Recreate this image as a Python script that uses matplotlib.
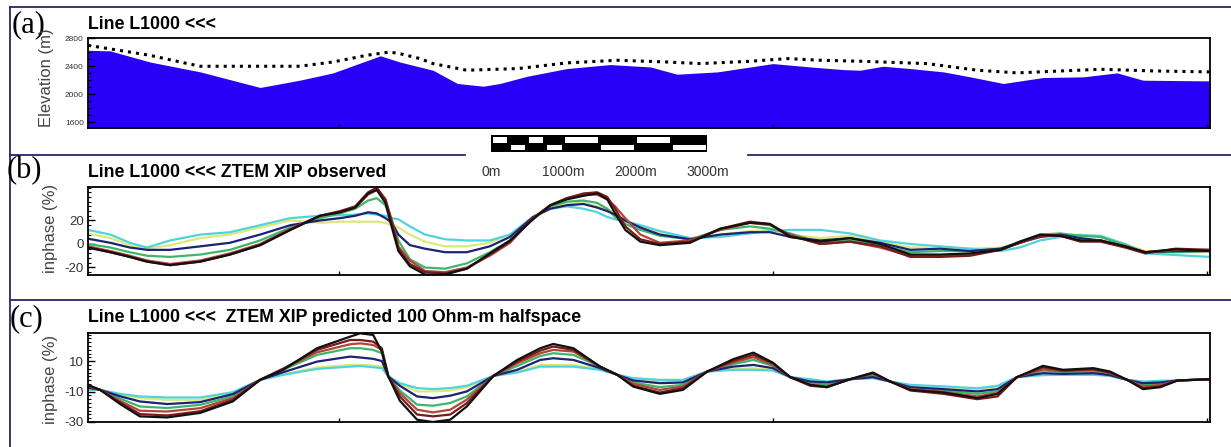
import matplotlib
matplotlib.use('Agg')
import matplotlib.pyplot as plt
import matplotlib.transforms as mtransforms
from matplotlib.patches import Rectangle
from matplotlib.lines import Line2D
from matplotlib.ticker import MultipleLocator, FixedLocator

plt.rcParams['font.family'] = ['Liberation Sans', 'DejaVu Sans']
plt.rcParams['axes.unicode_minus'] = False

# (a) elevation profile, distance along line in km
dist_terrain = [0.00, 0.31, 0.86, 1.56, 2.39, 2.94, 3.40, 4.06, 4.33, 4.79, 5.13, 5.49, 5.72, 6.10,
                6.65, 7.25, 7.81, 8.18, 8.74, 9.51, 10.03, 10.49, 10.72, 11.04, 11.42, 11.88,
                12.25, 12.71, 13.26, 13.82, 14.29, 14.65, 15.58]
elev_terrain = [2629, 2620, 2461, 2319, 2096, 2200, 2304, 2550, 2461, 2343, 2153, 2114, 2153, 2257,
                2367, 2424, 2390, 2286, 2319, 2438, 2390, 2352, 2343, 2400, 2367, 2319,
                2248, 2153, 2238, 2248, 2305, 2200, 2190]
dist_flight = [0.00, 0.86, 1.28, 1.56, 2.94, 3.40, 3.87, 4.19, 4.33, 4.61, 4.79, 5.26, 5.97, 6.65,
               7.35, 8.04, 8.50, 9.19, 9.71, 10.17, 10.76, 11.65, 12.35, 12.90, 14.06, 14.79, 15.58]
elev_flight = [2700, 2557, 2461, 2400, 2400, 2461, 2557, 2604, 2581, 2510, 2438, 2343, 2367, 2448,
               2486, 2461, 2438, 2471, 2510, 2486, 2471, 2438, 2343, 2305, 2357, 2333, 2319]

# (b) ZTEM XIP observed (%)
dist_obs = [0.00, 0.31, 0.58, 0.82, 1.14, 1.56, 1.97, 2.39, 2.81, 3.22, 3.50, 3.71, 3.89, 4.01,
            4.13, 4.22, 4.31, 4.47, 4.68, 4.96, 5.26, 5.58, 5.86, 6.18, 6.42, 6.65, 6.88, 7.07,
            7.21, 7.32, 7.46, 7.67, 7.94, 8.36, 8.78, 9.19, 9.47, 9.75, 10.17, 10.58, 11.00,
            11.42, 11.83, 12.25, 12.67, 12.94, 13.22, 13.50, 13.78, 14.06, 14.40, 14.68, 15.10, 15.58]
obs_black = [-3, -7, -11, -15, -18, -15, -9, -1, 12, 24, 27, 31, 43, 46, 35, 14, -6, -19, -26, -26,
             -21, -8, 3, 21, 33, 38, 41, 43, 38, 26, 12, 2, -1, 1, 13, 18, 17, 6, 2, 5,
             0, -9, -9, -8, -5, 2, 8, 7, 3, 3, -2, -7, -4.5, -6]
obs_maroon = [-3, -7, -11, -15, -18, -15, -9, -1, 12, 24, 28, 32, 44, 48, 38, 18, -4, -17, -24, -25,
              -21, -9, 2, 22, 33, 39, 43, 44, 40, 30, 15, 4, 0, 2, 13, 19, 17, 7, 0, 2,
              -2, -11, -11, -10, -5, 1, 7, 7, 2, 2, -3, -8, -4, -5]
obs_red = [-2, -6, -10, -14, -17, -14, -8, 0, 13, 24, 27, 31, 42, 46, 38, 20, -2, -14, -23, -24,
           -20, -10, 1, 22, 33, 39, 42, 42, 38, 32, 22, 8, 1, 3, 12, 18, 16, 8, 0, 2,
           -3, -10, -10, -9, -5, 1, 7, 7, 3, 3, -2, -7, -5, -5]
obs_green = [0, -3, -7, -10, -11, -9, -5, 3, 14, 22, 26, 30, 37, 39, 33, 20, 3, -13, -20, -21,
             -16.5, -7, 3, 22, 32, 36, 37, 35, 30, 23, 17, 12, 7, 4, 12, 15, 13, 9, 1, 3,
             -1, -7, -6, -6, -4, 2, 8, 9, 7, 6, -1, -7, -7, -6]
obs_yellow = [9, 5, -1, -4, -1, 5, 8, 14, 20, 18, 19, 19, 19, 19, 18, 16, 14, 8, 2, -2,
              -2, 1, 8, 23, 32, 34, 35, 32, 30, 26, 21, 14, 9, 4, 8, 11, 12, 8, 5, 7,
              2, -3, -3, -4, -3, 1, 6, 7, 8, 6, 0, -6, -7, -7]
obs_navy = [4.5, 1, -3, -5, -5, -2, 1, 8, 16, 20, 22, 24, 27, 26, 22, 18, 8, -1, -4, -7,
            -7, -2, 6, 23, 30, 33, 34, 31, 28, 25, 20, 14, 8, 4, 8, 10, 10, 6, 3, 5,
            1, -5, -4, -6, -4, 1, 6, 8, 5, 3, -2, -7, -6, -6]
obs_cyan = [12, 8, 1, -3, 3, 8, 10, 16, 22, 24, 24.5, 25, 26, 25, 24, 22, 21, 15, 8, 4,
            3, 3, 8, 23, 30, 32, 30, 27, 23, 21, 19, 16, 11, 5, 6, 9, 11, 12, 12, 9,
            3, 0, -2, -4, -6, -3, 3, 6, 7.5, 7, 0, -8, -9.4, -11]

# (c) ZTEM XIP predicted, 100 Ohm-m halfspace (%)
dist_pred = [0.00, 0.17, 0.44, 0.72, 1.10, 1.56, 2.01, 2.39, 2.71, 3.18, 3.64, 3.78, 3.96, 4.08,
             4.17, 4.33, 4.57, 4.79, 5.03, 5.26, 5.63, 5.96, 6.28, 6.46, 6.74, 7.11, 7.35, 7.57,
             7.94, 8.26, 8.60, 8.96, 9.24, 9.51, 9.75, 10.03, 10.26, 10.58, 10.90, 11.14, 11.42,
             11.88, 12.35, 12.63, 12.90, 13.26, 13.54, 13.96, 14.19, 14.43, 14.65, 14.89, 15.13, 15.58]
pred_black = [-5.6, -8.9, -18, -26.3, -27, -24, -16.5, -2.3, 4.3, 18.5, 26.1, 28.3, 27.2, 16.3, 0,
              -16, -28.5, -30, -28.5, -19.8, 0.3, 10.8, 18.5, 21.3, 18.5, 6.4, 1, -6.7, -11.5, -8.9,
              3.2, 11.3, 15.6, 9, -0.5, -5.6, -7.1, -1.9, 2.5, -3.4, -8.9, -10.6, -14.3, -11.5,
              -0.5, 6.9, 4.3, 5.4, 3.2, -2.3, -8.4, -7.1, -2.7, -1.9]
pred_maroon = [-6, -8.9, -17, -24.8, -25.7, -22.9, -15.4, -2.3, 5, 17.4, 23.9, 23.9, 22.8, 18.5, 0,
               -13.2, -25.1, -26.3, -25.1, -17.6, 0.3, 9.7, 16.9, 19.6, 17.4, 6.4, 1, -6.2, -10.6, -7.8,
               3.2, 10.2, 14.1, 8.6, -0.5, -6.2, -7.1, -1.9, 2.1, -3.4, -9.3, -11.5, -15, -13.2,
               -0.5, 6, 3.8, 4.7, 2.5, -2.3, -7.8, -6.6, -2.7, -1.9]
pred_red = [-6.5, -8.9, -16, -22.6, -23.1, -20.9, -14.3, -2.3, 5, 15.8, 21.1, 21.7, 20.6, 17.4, 0,
            -11, -21.9, -23.7, -21.9, -15.3, 0.3, 8.6, 15.2, 17.4, 16.3, 6.4, 1, -4.9, -8.9, -6.7,
            3.2, 9.1, 12.6, 7.5, -0.5, -5.5, -6.5, -1.9, 1.6, -3.4, -8.4, -10.2, -13.2, -11,
            -0.5, 4.7, 3.4, 4.3, 2.1, -2.3, -6.7, -5.7, -2.7, -1.9]
pred_green = [-7, -8.9, -14.5, -19.8, -20.8, -18.7, -13.2, -2.3, 4.3, 14.1, 18.5, 18.5, 17.4, 15.2, 0,
              -9.3, -18.6, -19.3, -17.5, -13.2, 0.3, 6.9, 13.4, 15.2, 14.1, 6.4, 1, -4, -7.1, -5.6,
              3.2, 8, 10.8, 6.9, -0.5, -4.5, -5.5, -1.9, 0.3, -3.4, -7.8, -9.3, -11.5, -9.9,
              -0.5, 3.8, 2.9, 3.4, 1.2, -2.3, -5.8, -4.9, -2.7, -1.9]
pred_navy = [-7.5, -8.9, -13, -16.5, -18.2, -16.9, -11.7, -2.3, 2.7, 9.7, 13, 12.4, 11.5, 10.1, 0,
             -6.2, -13.2, -14.3, -12.7, -9.9, 0.3, 4.3, 10.8, 11.9, 10.8, 5.4, 1, -2.7, -4.5, -4,
             3.2, 6.4, 7.5, 5.4, -0.5, -3.4, -4, -1.9, -0.5, -3.4, -7.1, -8.4, -9.9, -8.4,
             -0.5, 2.1, 1.6, 2.1, 0.8, -2.3, -4.5, -4, -2.7, -1.9]
pred_yellow = [-8, -8.9, -12, -14.3, -15.4, -15.4, -11, -2.3, 1.4, 5.8, 7.5, 7.5, 7.1, 6.4, 0,
               -5, -9.9, -9.9, -9.3, -7.1, 0.3, 3.2, 7.5, 7.5, 7.5, 4.7, 1, -1.9, -3.4, -3,
               3.2, 4.7, 5.4, 4.3, -0.5, -2.7, -3.4, -1.9, -1, -3.4, -6.2, -7.1, -8.4, -7.1,
               -0.5, 1.2, 1.2, 1.6, 0.3, -2.3, -4, -3.6, -2.7, -1.9]
pred_cyan = [-8.9, -8.9, -11.5, -13.2, -13.9, -13.9, -10.4, -2.3, 1, 4.9, 6.4, 6.8, 6, 5.4, 0,
             -4.5, -7.7, -8.4, -7.7, -6.2, 0.3, 2.5, 6.4, 6.4, 6.4, 4.3, 1, -1.2, -2.3, -2.3,
             3.2, 4.3, 4.3, 3.8, -0.5, -1.9, -3.4, -1.9, -1.2, -3.4, -5.6, -6.6, -7.8, -6.2,
             -0.5, 0.8, 1, 1, 0.3, -2.3, -3.4, -2.9, -2.7, -1.9]

bottom_ticks = [3.49, 9.51, 15.54]

# scale bar (m), drawn under panel (a)
scale_start = 5.6
scale_marks = [0, 1000, 2000, 3000]
scale_labels = ['0m', '1000m', '2000m', '3000m']
scale_top_white = [(0, 250), (500, 750), (1000, 1500), (2000, 2500)]
scale_bot_white = [(250, 500), (750, 1000), (1500, 2000), (2500, 3000)]

col = {'black': '#111111', 'maroon': '#7a1a1a', 'red': '#b0483a', 'green': '#3fb56c',
       'yellow': '#dbe97c', 'navy': '#1c2274', 'cyan': '#52d2da'}

W, H = 1231, 447
fig = plt.figure(figsize=(W / 100, H / 100), dpi=100)


def px(x, y):
    return x / W, 1 - y / H


def frame(ax):
    for s in ax.spines.values():
        s.set_linewidth(1.3)
        s.set_color('black')
    ax.xaxis.set_major_locator(FixedLocator(bottom_ticks))
    ax.tick_params(axis='both', which='both', direction='in', labelbottom=False,
                   top=False, right=False, colors='black', labelcolor='#333333')
    ax.tick_params(axis='x', length=3, width=1)
    ax.tick_params(axis='y', which='major', length=5, width=1, pad=3)
    ax.tick_params(axis='y', which='minor', length=2.5, width=0.8)
    ax.set_xlim(0, 15.58)


ax_a = fig.add_axes([88 / W, 1 - 128 / H, 1122 / W, 90 / H])
ax_b = fig.add_axes([88 / W, 1 - 275 / H, 1122 / W, 88 / H])
ax_c = fig.add_axes([88 / W, 1 - 422 / H, 1122 / W, 89 / H])

# (a)
ax_a.set_ylim(1515, 2805)
ax_a.fill_between(dist_terrain, elev_terrain, ax_a.get_ylim()[0], color='#2800f8', lw=0)
ax_a.plot(dist_flight, elev_flight, color='black', ls=':', lw=2.2)
ax_a.set_yticks([1600, 2000, 2400, 2800])
ax_a.yaxis.set_minor_locator(MultipleLocator(100))
frame(ax_a)
ax_a.tick_params(axis='y', labelsize=6)

# (b)
for name, vals in [('yellow', obs_yellow), ('cyan', obs_cyan), ('green', obs_green),
                   ('navy', obs_navy), ('red', obs_red), ('maroon', obs_maroon), ('black', obs_black)]:
    ax_b.plot(dist_obs, vals, color=col[name], lw=1.6)
ax_b.set_ylim(-26.4, 48.5)
ax_b.set_yticks([-20, 0, 20])
ax_b.yaxis.set_minor_locator(MultipleLocator(4))
frame(ax_b)
ax_b.tick_params(axis='y', labelsize=9.5)

# (c)
for name, vals in [('yellow', pred_yellow), ('cyan', pred_cyan), ('green', pred_green),
                   ('navy', pred_navy), ('red', pred_red), ('maroon', pred_maroon), ('black', pred_black)]:
    ax_c.plot(dist_pred, vals, color=col[name], lw=1.6)
ax_c.set_ylim(-29.8, 28.5)
ax_c.set_yticks([-30, -10, 10])
ax_c.yaxis.set_minor_locator(MultipleLocator(2.5))
frame(ax_c)
ax_c.tick_params(axis='y', labelsize=9.5)

# titles and panel letters
fig.text(*px(88, 29), 'Line L1000 <<<', fontsize=12.8, fontweight='bold', va='baseline')
fig.text(*px(88, 177), 'Line L1000 <<< ZTEM XIP observed', fontsize=12.8, fontweight='bold',
         va='baseline')
fig.text(*px(88, 322), 'Line L1000 <<<  ZTEM XIP predicted 100 Ohm-m halfspace', fontsize=12.8,
         fontweight='bold', va='baseline')
for lab, x, y in [('(a)', 12, 32), ('(b)', 7, 178), ('(c)', 10, 326)]:
    fig.text(*px(x, y), lab, family='Liberation Serif', fontsize=22, va='baseline')

fig.text(*px(46, 78), 'Elevation (m)', rotation=90, ha='center', va='center', fontsize=12,
         color='#444444')
fig.text(*px(50, 228), 'inphase (%)', rotation=90, ha='center', va='center', fontsize=12,
         color='#444444')
fig.text(*px(51, 379), 'inphase (%)', rotation=90, ha='center', va='center', fontsize=12,
         color='#444444')

# page frame lines
navy_line = '#26266e'
for xs, ys in [((10, W), (7, 7)), ((10, 10), (7, H)), ((10, 465), (155, 155)),
               ((748, W), (155, 155)), ((10, W), (300, 300))]:
    fig.add_artist(Line2D([x / W for x in xs], [1 - y / H for y in ys],
                          transform=fig.transFigure, color=navy_line, lw=1.3))

# scale bar
trans = mtransforms.blended_transform_factory(ax_a.transData, fig.transFigure)
fig.add_artist(Rectangle((scale_start, 1 - 152 / H), scale_marks[-1] / 1000, 17 / H,
                         transform=trans, facecolor='black', edgecolor='none'))
for segs, y0, y1 in [(scale_top_white, 143, 137), (scale_bot_white, 150, 145)]:
    for a, b in segs:
        fig.add_artist(Rectangle((scale_start + (a + 25) / 1000, 1 - y0 / H), (b - a - 50) / 1000,
                                 (y0 - y1) / H, transform=trans, facecolor='white', edgecolor='none'))
for m, lab in zip(scale_marks, scale_labels):
    fig.text(scale_start + m / 1000, 1 - 172 / H, lab, transform=trans, ha='center', va='center',
             fontsize=10, color='#333333')

fig.savefig('out.png', dpi=100)
